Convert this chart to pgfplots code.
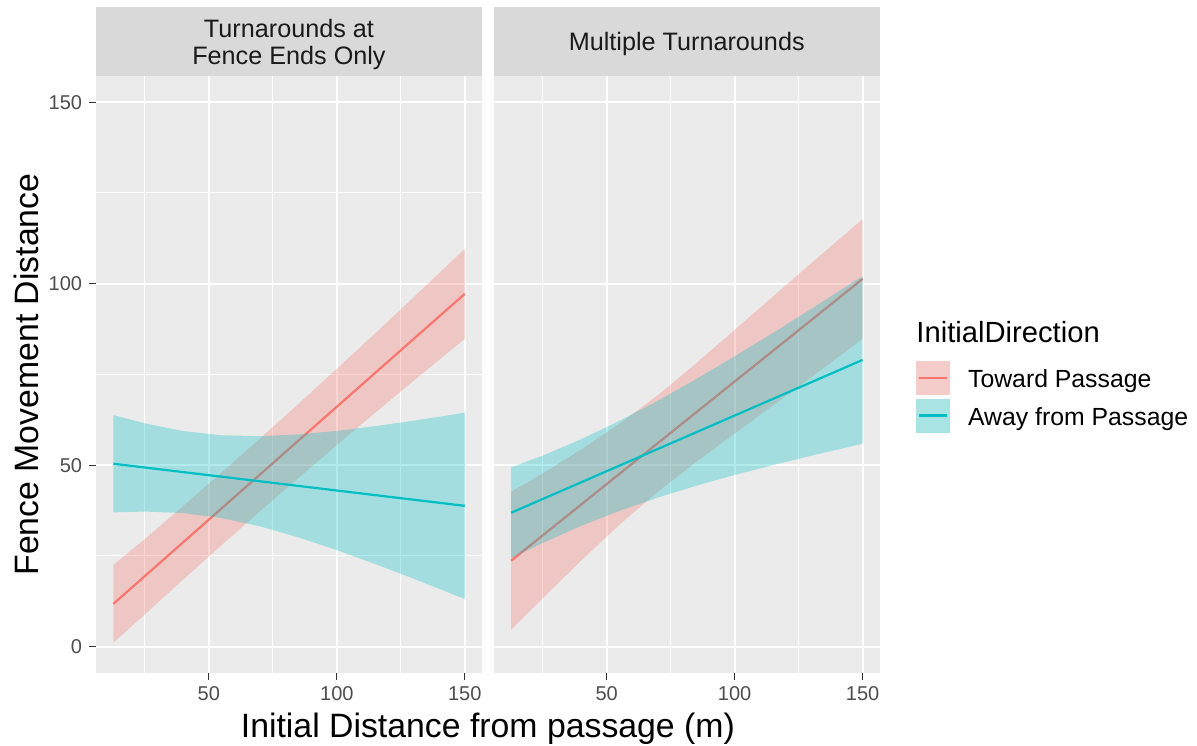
\documentclass[border=0pt]{standalone}
\usepackage{pgfplots}
\pgfplotsset{compat=1.18}
\usepackage{pgfplotstable}
\usepackage{fontspec}
\setmainfont{Liberation Sans}

\definecolor{ggbg}{HTML}{EBEBEB}
\definecolor{ggstrip}{HTML}{D9D9D9}
\definecolor{ggred}{HTML}{F8766D}
\definecolor{ggcyan}{HTML}{00BFC4}
\definecolor{ggtick}{HTML}{333333}
\definecolor{ggtlab}{HTML}{4D4D4D}
\definecolor{ggstxt}{HTML}{1A1A1A}
\definecolor{keyred}{RGB}{244,205,202}
\definecolor{keycyan}{RGB}{169,227,228}

% Left panel (Turnarounds at Fence Ends Only): fitted lines
\pgfplotstableread{
x     y
12.7  11.80
150   97.20
}\LRline
\pgfplotstableread{
x     y
12.7  50.40
150   38.80
}\LCline
% Left panel: confidence bands (upper edge left to right, lower edge right to left)
\pgfplotstableread{
x     y
12.7  22.50
25    29.67
40    38.75
55    47.98
70    57.35
85    66.89
100   76.55
115   86.34
130   96.25
150  109.60
150   84.80
130   73.23
115   64.44
100   55.53
85    46.49
70    37.31
55    27.98
40    18.51
25     8.89
12.7   1.10
}\LRband
\pgfplotstableread{
x     y
12.7  63.80
25    61.53
40    59.41
55    58.24
70    57.99
85    58.48
100   59.45
115   60.75
130   62.25
150   64.47
150   13.13
130   18.73
115   22.77
100   26.61
85    30.12
70    33.15
55    35.44
40    36.81
25    37.23
12.7  37.00
}\LCband
% Right panel (Multiple Turnarounds): fitted lines
\pgfplotstableread{
x     y
12.7  23.70
150  101.30
}\RRline
\pgfplotstableread{
x     y
12.7  36.90
150   79.00
}\RCline
\pgfplotstableread{
x     y
12.7  42.70
25    47.70
40    54.29
55    61.39
70    69.28
85    78.08
100   87.28
115   96.47
130  105.67
150  117.80
150   84.80
130   74.27
115   66.47
100   58.68
85    50.88
70    42.68
55    33.59
40    23.69
25    13.30
12.7   4.70
}\RRband
\pgfplotstableread{
x     y
12.7  49.39
25    52.62
40    57.13
55    62.20
70    67.76
85    73.72
100   79.98
115   86.44
130   93.08
150  102.10
150   55.90
130   52.62
115   50.04
100   47.30
85    44.34
70    41.08
55    37.42
40    33.27
25    28.56
12.7  24.41
}\RCband

\pgfplotsset{
  ggpanel/.style={
    scale only axis, width=193.25pt, height=298.65pt,
    xmin=5.8, xmax=156.8, ymin=-7.33, ymax=157.2,
    axis background/.style={fill=ggbg},
    axis line style={draw=none},
    xtick={50,100,150}, minor xtick={25,75,125}, minor ytick={25,75,125},
    xmajorgrids, ymajorgrids, xminorgrids, yminorgrids,
    major grid style={white, line width=1pt},
    minor grid style={white, line width=0.5pt},
    minor tick length=0pt, major tick length=3.3pt,
    tick align=outside, tick pos=left,
    major tick style={ggtick, line width=0.55pt},
    /pgf/number format/assume math mode=true,
    ticklabel style={font=\fontsize{10}{12}\selectfont, text=ggtlab},
  },
  band/.style={draw=none, fill=#1, fill opacity=0.3},
  fit/.style={draw=#1, line width=1.1pt, mark=none},
}

\begin{document}
\begin{tikzpicture}
\path (0,0) rectangle (598.5pt,-372.5pt);

\begin{axis}[ggpanel, at={(47.85pt,-336.65pt)}, anchor=south west,
  ytick={0,50,100,150}]
  \addplot[band=ggred, forget plot] table[x=x,y=y]{\LRband} -- cycle;
  \addplot[fit=ggred, forget plot] table[x=x,y=y]{\LRline};
  \addplot[band=ggcyan, forget plot] table[x=x,y=y]{\LCband} -- cycle;
  \addplot[fit=ggcyan, forget plot] table[x=x,y=y]{\LCline};
\end{axis}

\begin{axis}[ggpanel, at={(246.75pt,-336.65pt)}, anchor=south west,
  ytick=\empty, extra y ticks={0,50,100,150}, extra y tick labels={},
  extra y tick style={grid=major, major tick length=0pt},
  legend style={at={(axis description cs:1.0931,0.5229)}, anchor=north west,
    draw=none, fill=none, inner sep=0pt, outer sep=0pt, row sep=1.7pt,
    column sep=9pt, font=\fontsize{12.4}{14}\selectfont,
    nodes={inner sep=0pt, text height=12pt, text depth=2.4pt}},
  legend cell align=left]
  \addplot[band=ggred, forget plot] table[x=x,y=y]{\RRband} -- cycle;
  \addplot[fit=ggred, forget plot] table[x=x,y=y]{\RRline};
  \addplot[band=ggcyan, forget plot] table[x=x,y=y]{\RCband} -- cycle;
  \addplot[fit=ggcyan, forget plot] table[x=x,y=y]{\RCline};
  \addlegendimage{legend image code/.code={
    \fill[keyred] (0pt,-8.33pt) rectangle (16.65pt,8.33pt);
    \draw[ggred,line width=1.1pt] (1.2pt,0pt) -- (15.45pt,0pt);}}
  \addlegendentry{Toward Passage}
  \addlegendimage{legend image code/.code={
    \fill[keycyan] (0pt,-8.33pt) rectangle (16.65pt,8.33pt);
    \draw[ggcyan,line width=1.1pt] (1.2pt,0pt) -- (15.45pt,0pt);}}
  \addlegendentry{Away from Passage}
\end{axis}

\begin{scope}[x=0.5pt,y=-0.5pt]
  \fill[ggstrip] (95.7,6.7) rectangle (482.2,76);
  \fill[ggstrip] (493.5,6.7) rectangle (880,76);
  \node[anchor=base, font=\fontsize{12.6}{14}\selectfont, text=ggstxt, inner sep=0pt] at (288.95,37.3) {Turnarounds at};
  \node[anchor=base, font=\fontsize{12.6}{14}\selectfont, text=ggstxt, inner sep=0pt] at (288.95,64) {Fence Ends Only};
  \node[anchor=base, font=\fontsize{12.6}{14}\selectfont, text=ggstxt, inner sep=0pt] at (686.75,50) {Multiple Turnarounds};
  \node[anchor=base, font=\fontsize{16.9}{18}\selectfont, inner sep=0pt] at (487.9,737.5) {Initial Distance from passage (m)};
  \node[anchor=base, rotate=90, font=\fontsize{16.9}{18}\selectfont, inner sep=0pt] at (38.3,374.6) {Fence Movement Distance};
  \node[anchor=base west, font=\fontsize{14.6}{16}\selectfont, inner sep=0pt] at (916,342.7) {InitialDirection};
\end{scope}
\pgfresetboundingbox
\useasboundingbox (0,0) rectangle (598.5pt,-372.5pt);
\end{tikzpicture}
\end{document}
